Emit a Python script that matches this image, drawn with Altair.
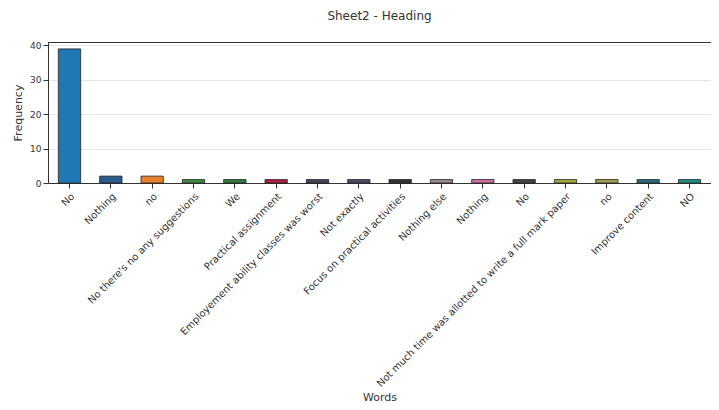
import json
import altair as alt
import pandas as pd

words = [
    "No", "Nothing", "no", "No there's no any suggestions", "We",
    "Practical assignment", "Employement ability classes was worst",
    "Not exactly", "Focus on practical activities", "Nothing else",
    "Nothing", "No", "Not much time was allotted to write a full mark paper",
    "no", "Improve content", "NO",
]
freq = [39, 2, 2, 1, 1, 1, 1, 1, 1, 1, 1, 1, 1, 1, 1, 1]
colors = [
    "#1f77b4", "#2b5d8c", "#e8822a", "#3f8f45", "#2f7f3f", "#b02040",
    "#4a4258", "#524a6a", "#3a3232", "#a08898", "#d070a0", "#444444",
    "#a8a840", "#a0a050", "#2a7080", "#209080",
]

df = pd.DataFrame({"idx": list(range(len(words))), "word": words,
                   "freq": freq, "color": colors})

label_expr = json.dumps(words) + "[datum.value]"

chart = alt.Chart(df).mark_bar(
    stroke="#222222", strokeWidth=0.8
).encode(
    x=alt.X("idx:O", title="Words",
            scale=alt.Scale(paddingInner=0.46, paddingOuter=0.25),
            axis=alt.Axis(labelExpr=label_expr, labelAngle=315,
                          labelAlign="right", labelBaseline="top",
                          labelFontSize=10, labelFont="DejaVu Sans",
                          labelLimit=0,
                          labelColor="#333333", tickColor="#333333",
                          domainColor="#333333", titleFont="DejaVu Sans",
                          titleFontSize=11, titleFontWeight="normal",
                          titleColor="#333333", labelPadding=3,
                          titlePadding=8)),
    y=alt.Y("freq:Q", title="Frequency",
            scale=alt.Scale(domain=[0, 41], nice=False),
            axis=alt.Axis(values=[0, 10, 20, 30, 40], labelFontSize=9,
                          labelFont="DejaVu Sans", labelColor="#333333",
                          tickColor="#333333", domainColor="#333333",
                          gridColor="#e6e6e6", titleFont="DejaVu Sans",
                          titleFontSize=11, titleFontWeight="normal",
                          titleColor="#333333", labelPadding=2,
                          titlePadding=6)),
    color=alt.Color("color:N", scale=None),
).properties(
    width=663, height=141,
    title=alt.TitleParams("Sheet2 - Heading", font="DejaVu Sans",
                          fontSize=12, fontWeight="normal", color="#333333",
                          offset=18),
    autosize=alt.AutoSizeParams(type="none"),
    padding={"left": 40, "top": 34, "right": 0, "bottom": 226},
).configure_view(
    stroke="#333333", strokeWidth=1
)

chart.save("out.html", embed_options={"renderer": "svg", "actions": False})
